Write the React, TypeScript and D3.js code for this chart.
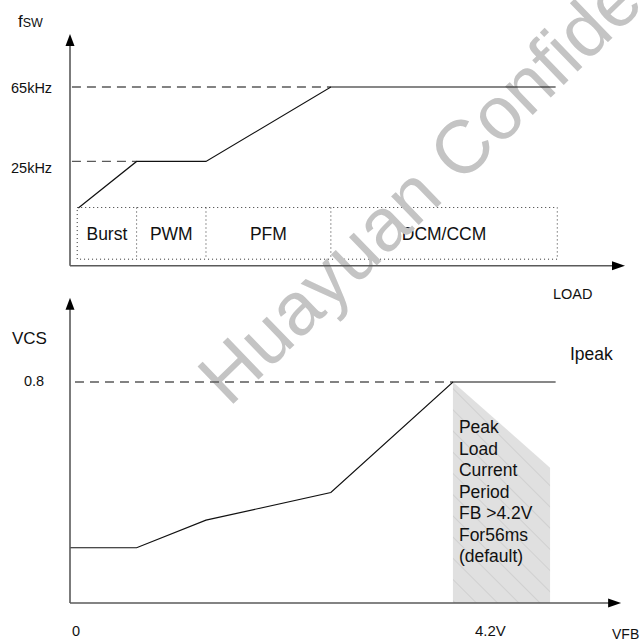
import React from "react";
import * as d3 from "d3";

// ---- data ----
const fswX = [1.5, 12, 24.5, 47, 87.5]; // load (% of axis)
const fswValues = [0, 25, 25, 65, 65]; // kHz
const fswLevels = [65, 25];
const fswLevelLabels = ["65kHz", "25kHz"];
const fswLevelEnds = [47, 12];

const modeNames = ["Burst", "PWM", "PFM", "DCM/CCM"];
const modeBounds = [1.3, 12, 24.5, 47, 87.8];

const vcsX = [0, 12, 24.5, 47, 69, 87.5];
const vcsValues = [0.2, 0.2, 0.3, 0.4, 0.8, 0.8];
const vcsLevel = 0.8;
const peakStart = 69;
const peakEnd = 86.5;
const peakEndValue = 0.49;
const peakLines = ["Peak", "Load", "Current", "Period", "FB >4.2V", "For56ms", "(default)"];

const FONT = "'Liberation Sans', Arial, Helvetica, sans-serif";

export default function App() {
  const x = d3.scaleLinear().domain([0, 100]).range([70, 625]);
  const yTop = d3.scaleLinear().domain([0, 65]).range([208, 87]);
  const yBot = d3.scaleLinear().domain([0, 0.8]).range([603, 382]);

  const xAxisTopY = yTop(-31);
  const xAxisBotY = yBot(0);
  const axisX = x(0);

  const line = d3.line<[number, number]>();
  const fswPath = line(fswX.map((v, i) => [x(v), yTop(fswValues[i])]))!;
  const vcsPath = line(vcsX.map((v, i) => [x(v), yBot(vcsValues[i])]))!;

  const peakPoly = [
    [x(peakStart), yBot(vcsLevel)],
    [x(peakEnd), yBot(peakEndValue)],
    [x(peakEnd), xAxisBotY],
    [x(peakStart), xAxisBotY],
  ]
    .map((p) => p.join(","))
    .join(" ");

  const boxTop = yTop(0) - 0.5;
  const boxBot = yTop(-27.5);

  const axisColor = "#5a5a5a";
  const dash = "9,6";

  const arrowUp = (cx: number, tip: number) =>
    `${cx},${tip} ${cx - 4.5},${tip + 12} ${cx + 4.5},${tip + 12}`;
  const arrowRight = (tip: number, cy: number) =>
    `${tip},${cy} ${tip - 13},${cy - 4.5} ${tip - 13},${cy + 4.5}`;

  const topTip = yTop(93.5);
  const botTip = yBot(1.105);
  const topRight = x(100);
  const botRight = x(99.3);

  return (
    <svg
      width={643}
      height={641}
      style={{ position: "fixed", left: 0, top: 0, background: "#fff" }}
      fontFamily={FONT}
    >
      <defs>
        <pattern
          id="hatch"
          width={15}
          height={15}
          patternUnits="userSpaceOnUse"
          patternTransform="rotate(-45)"
        >
          <rect width={15} height={15} fill="#e0e0e0" />
          <line x1={0} y1={0} x2={0} y2={15} stroke="#cbcbcb" strokeWidth={1.5} />
        </pattern>
      </defs>

      {/* ---- top panel ---- */}
      <text x={18} y={27} fontSize={17} fill="#111">
        f<tspan fontSize={12.5}>SW</tspan>
      </text>

      {fswLevels.map((lv, i) => (
        <g key={lv}>
          <line
            x1={x(0.35)}
            x2={x(fswLevelEnds[i])}
            y1={yTop(lv)}
            y2={yTop(lv)}
            stroke={axisColor}
            strokeWidth={1.3}
            strokeDasharray={dash}
          />
          <text x={11} y={yTop(lv) + (i === 0 ? 5.5 : 11.5)} fontSize={14.5} fill="#111">
            {fswLevelLabels[i]}
          </text>
        </g>
      ))}

      {/* mode box */}
      <rect
        x={x(modeBounds[0])}
        y={boxTop}
        width={x(modeBounds[modeBounds.length - 1]) - x(modeBounds[0])}
        height={boxBot - boxTop}
        fill="none"
        stroke="#333"
        strokeWidth={1}
        strokeDasharray="1,3"
      />
      {modeBounds.slice(1, -1).map((b) => (
        <line
          key={b}
          x1={x(b)}
          x2={x(b)}
          y1={boxTop}
          y2={boxBot}
          stroke="#333"
          strokeWidth={1}
          strokeDasharray="1,3"
        />
      ))}
      {modeNames.map((m, i) => (
        <text
          key={m}
          x={(x(modeBounds[i]) + x(modeBounds[i + 1])) / 2}
          y={(boxTop + boxBot) / 2 + 6.3}
          fontSize={17.5}
          textAnchor="middle"
          fill="#111"
        >
          {m}
        </text>
      ))}

      {/* ---- bottom panel ---- */}
      <text x={12} y={344} fontSize={17} fill="#111">
        VCS
      </text>
      <text x={24} y={yBot(vcsLevel) + 3.5} fontSize={14.5} fill="#111">
        0.8
      </text>
      <text x={570} y={360} fontSize={17.5} fill="#111">
        Ipeak
      </text>
      <text x={553} y={299} fontSize={14.5} fill="#111">
        LOAD
      </text>

      <polygon points={peakPoly} fill="url(#hatch)" />
      {peakLines.map((t, i) => (
        <text key={t} x={x(peakStart) + 6} y={433 + i * 21.5} fontSize={17.5} fill="#111">
          {t}
        </text>
      ))}

      <text x={72} y={636} fontSize={14.5} fill="#111">
        0
      </text>
      <text x={475} y={636} fontSize={15} fill="#111">
        4.2V
      </text>
      <text x={612} y={639} fontSize={14} fill="#111">
        VFB
      </text>

      {/* watermark */}
      <text
        x={229}
        y={408}
        fontSize={75}
        fill="#c4c4c4"
        transform="rotate(-44 229 408)"
      >
        Huayuan Confidential
      </text>

      {/* dashed level bottom */}
      <line
        x1={x(0.9)}
        x2={x(peakStart)}
        y1={yBot(vcsLevel)}
        y2={yBot(vcsLevel)}
        stroke={axisColor}
        strokeWidth={1.3}
        strokeDasharray={dash}
      />

      {/* data lines */}
      <path d={fswPath} fill="none" stroke="#111" strokeWidth={1.2} />
      <path d={vcsPath} fill="none" stroke="#111" strokeWidth={1.2} />

      {/* axes */}
      <line x1={axisX} x2={axisX} y1={xAxisTopY} y2={topTip + 10} stroke={axisColor} strokeWidth={1.6} />
      <line x1={axisX} x2={topRight - 10} y1={xAxisTopY} y2={xAxisTopY} stroke={axisColor} strokeWidth={1.6} />
      <polygon points={arrowUp(axisX, topTip)} fill="#000" />
      <polygon points={arrowRight(topRight, xAxisTopY)} fill="#000" />

      <line x1={axisX} x2={axisX} y1={xAxisBotY} y2={botTip + 10} stroke={axisColor} strokeWidth={1.6} />
      <line x1={axisX} x2={botRight - 10} y1={xAxisBotY} y2={xAxisBotY} stroke={axisColor} strokeWidth={1.6} />
      <polygon points={arrowUp(axisX, botTip)} fill="#000" />
      <polygon points={arrowRight(botRight, xAxisBotY)} fill="#000" />
    </svg>
  );
}
